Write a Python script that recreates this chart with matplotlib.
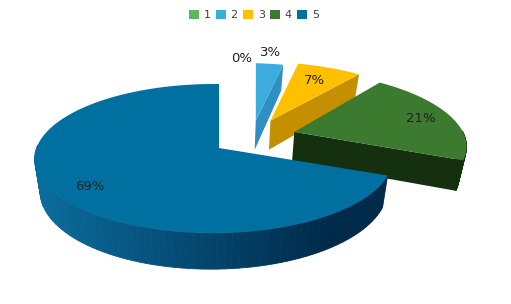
import numpy as np
import matplotlib
matplotlib.use('Agg')
import matplotlib.pyplot as plt
from matplotlib.colors import to_rgb
from matplotlib.patches import Patch, Polygon

categories = ['1', '2', '3', '4', '5']
values = [0, 3, 7, 21, 69]
colors = ['#5cb85c', '#3cacdf', '#ffc000', '#3c7a30', '#0070a0']
side_colors = ['#3f8f3f', '#2e8fc0', '#c48f00', '#14300f', '#002a4a']
label_pos = [(242, 58), (271, 52), (314, 80), (421, 119), (90, 187)]

# explode offset, radius and small turn of each slice, in pie plane units
offsets = [(0, 0), (0.221, 0.40), (0.31, 0.40), (0.445, 0.23), (0, 0)]
radius = [1, 1, 1.03, 1.04, 1]
turn = [0, 0.03, 0.04, 0.02, 0]

cx, cy = 219, 148
a, b, k, l = 177, 73, 0.141, 0.03
depth = 31


def project(x, y, bottom=False):
    den = 1 + k * y + l * x
    px = a * x / den
    py = b * y / den
    if bottom:
        return cx + px * 0.97, cy - py + depth / den
    return cx + px, cy - py


def rim(i, t, bottom=False):
    r = radius[i]
    ox, oy = offsets[i]
    return project(ox + r * np.sin(t + turn[i]), oy + r * np.cos(t + turn[i]), bottom)


def tip(i, bottom=False):
    return project(offsets[i][0], offsets[i][1], bottom)


fig = plt.figure(figsize=(5.11, 3.04), dpi=100)
ax = fig.add_axes([0, 0, 1, 1])
ax.set_xlim(0, 511)
ax.set_ylim(304, 0)
ax.axis('off')

edges = np.cumsum([0] + values) / sum(values) * 2 * np.pi
light = np.array(to_rgb('#0a6c9c'))

for i in [1, 2, 3, 4]:
    t = np.linspace(edges[i], edges[i + 1], 120)
    # cut face along the closing edge of the slice
    if i != 4:
        t1 = edges[i + 1]
        ax.add_patch(Polygon([tip(i), rim(i, t1), rim(i, t1, True), tip(i, True)],
                             fc=side_colors[i], ec='none', zorder=i))
    # outer wall, only the part facing the viewer
    front = t[np.cos(t) < 0.05]
    dark = np.array(to_rgb(side_colors[i]))
    for j in range(len(front) - 1):
        col = dark
        if i == 4:
            f = np.clip((rim(i, front[j])[0] - 40) / 290, 0, 1)
            col = light + (dark - light) * f
        ax.add_patch(Polygon([rim(i, front[j]), rim(i, front[j + 1]),
                              rim(i, front[j + 1], True), rim(i, front[j], True)],
                             fc=col, ec=col, lw=0.6, zorder=i))
    xs, ys = rim(i, t)
    tx, ty = tip(i)
    ax.add_patch(Polygon(np.column_stack([np.r_[tx, xs], np.r_[ty, ys]]),
                         fc=colors[i], ec='none', zorder=i + 0.5))

for p, v in zip(label_pos, values):
    ax.text(p[0], p[1], f'{v}%', ha='center', va='center', fontsize=9.5,
            color='#202020', zorder=10)

handles = [Patch(fc=c, ec='none') for c in colors]
ax.legend(handles, categories, ncol=5, loc='center', bbox_to_anchor=(254 / 511, 1 - 15 / 304),
          frameon=False, fontsize=8, labelcolor='#404040', handlelength=0.85,
          handleheight=0.85, handletextpad=0.45, columnspacing=0.5)

fig.savefig('out.png', dpi=100)
